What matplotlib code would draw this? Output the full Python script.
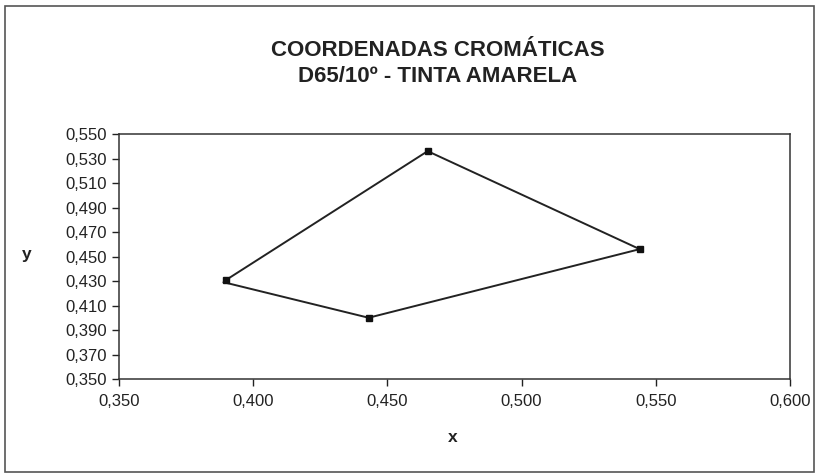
import matplotlib
matplotlib.use("Agg")
import matplotlib.pyplot as plt
from matplotlib.patches import Rectangle
from matplotlib.ticker import FuncFormatter

plt.rcParams['font.family'] = ['Liberation Sans', 'DejaVu Sans']

# Data (closed polygon of chromatic coordinates)
x_values = [0.390, 0.465, 0.544, 0.443, 0.389]
y_values = [0.431, 0.536, 0.456, 0.400, 0.429]

x_ticks = [0.350, 0.400, 0.450, 0.500, 0.550, 0.600]
y_ticks = [0.350, 0.370, 0.390, 0.410, 0.430, 0.450, 0.470, 0.490, 0.510, 0.530, 0.550]

title_lines = ["COORDENADAS CROMÁTICAS", "D65/10º - TINTA AMARELA"]

W, H = 821, 476
fig = plt.figure(figsize=(W / 100, H / 100), dpi=100)
fig.patch.set_facecolor('white')

# outer chart-area border
fig.add_artist(Rectangle((5 / W, 1 - 472 / H), 809 / W, 466 / H,
                         transform=fig.transFigure, fill=False,
                         edgecolor='#555555', linewidth=1.2))

left, right, top, bottom = 119, 790, 134, 379
ax = fig.add_axes([left / W, 1 - bottom / H, (right - left) / W, (bottom - top) / H])

ax.plot(x_values, y_values, color='#222222', linewidth=1.4,
        marker='s', markersize=4.5, markerfacecolor='#111111',
        markeredgecolor='#111111', markevery=[0, 1, 2, 3])

ax.set_xlim(0.350, 0.600)
ax.set_ylim(0.350, 0.550)
ax.set_xticks(x_ticks)
ax.set_yticks(y_ticks)
fmt = FuncFormatter(lambda v, p: f"{v:.3f}".replace('.', ','))
ax.xaxis.set_major_formatter(fmt)
ax.yaxis.set_major_formatter(fmt)
ax.tick_params(axis='both', direction='out', length=5, width=1,
               labelsize=12, colors='#222222', pad=4)
ax.tick_params(axis='x', pad=6)
for s in ax.spines.values():
    s.set_color('#333333')
    s.set_linewidth(1.1)

fig.text(438 / W, 1 - 50 / H, title_lines[0], ha='center', va='center',
         fontsize=16, fontweight='bold', color='#222222')
fig.text(438 / W, 1 - 76 / H, title_lines[1], ha='center', va='center',
         fontsize=16, fontweight='bold', color='#222222')

fig.text(27 / W, 1 - 254 / H, "y", ha='center', va='center',
         fontsize=12.5, fontweight='bold', color='#222222')
fig.text(453 / W, 1 - 438 / H, "x", ha='center', va='center',
         fontsize=12.5, fontweight='bold', color='#222222')

fig.savefig("out.png", dpi=100, facecolor='white')
